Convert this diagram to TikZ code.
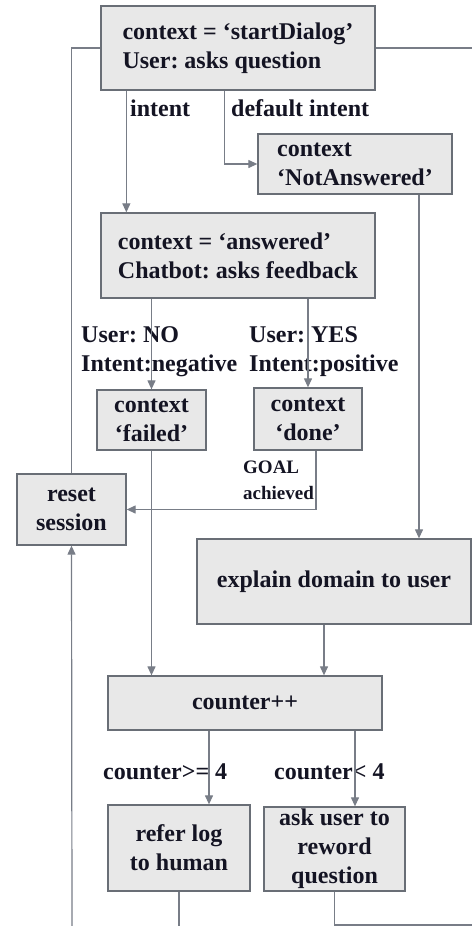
\documentclass[tikz,border=0pt]{standalone}
\usepackage{fontspec}
\setmainfont{Liberation Serif}
\usepackage{xcolor}
\usepackage{tikz}
\usetikzlibrary{arrows.meta}

\definecolor{boxgray}{RGB}{232,232,232}
\definecolor{edgegray}{RGB}{105,110,118}
\definecolor{linegray}{RGB}{120,125,135}
\definecolor{inkdark}{RGB}{20,20,35}

\newcommand{\boxfont}{\fontsize{24}{29}\selectfont\bfseries\frenchspacing}

\tikzset{
  box/.style={draw=edgegray, fill=boxgray, line width=1.3pt, inner sep=0pt,
    align=center, text=inkdark, font=\boxfont},
  lbl/.style={inner sep=0pt, anchor=west, align=left, text=inkdark, font=\boxfont},
  conn/.style={draw=linegray, line width=1.2pt},
  arr/.style={conn, -{Triangle[length=9pt,width=8pt]}}
}

\begin{document}
\begin{tikzpicture}[x=1pt, y=-1pt]

    % Marco
    \useasboundingbox (0,0) rectangle (472,926);

    % Cajas de arriba
    \node[box, minimum width=274pt, minimum height=84pt, align=left] (start) at (238,48)
      {context = ‘startDialog’\\User: asks question};
    \node[box, minimum width=194pt, minimum height=60pt, align=left] (notans) at (355,164)
      {context\\‘NotAnswered’};
    \node[box, minimum width=274pt, minimum height=85pt, align=left] (answered) at (238,255.5)
      {context = ‘answered’\\Chatbot: asks feedback};

    % Cajas del medio
    \node[box, minimum width=109pt, minimum height=60pt] (failed) at (151.5,420)
      {context\\‘failed’};
    \node[box, minimum width=108pt, minimum height=62pt] (done) at (308,419)
      {context\\‘done’};
    \node[box, minimum width=109pt, minimum height=71pt] (reset) at (71.5,509.5)
      {reset\\session};
    \node[box, minimum width=274pt, minimum height=85pt] (explain) at (334,581.5)
      {explain domain to user};

    % Cajas de abajo
    \node[box, minimum width=274pt, minimum height=54pt] (counter) at (245,703)
      {counter++};
    \node[box, minimum width=142pt, minimum height=86pt] (refer) at (179,848)
      {refer log\\to human};
    \node[box, minimum width=141pt, minimum height=84pt] (ask) at (334.5,849)
      {ask user to\\reword\\question};

    % Etiquetas
    \node[lbl] (lintent) at (130,108) {intent};
    \node[lbl] (ldefault) at (231,108) {default intent};
    \node[lbl] (lno) at (81,352) {User: NO\\Intent:negative};
    \node[lbl] (lyes) at (249,352) {User: YES\\Intent:positive};
    \node[lbl, font=\fontsize{19}{26}\selectfont\bfseries] (lgoal) at (243,480) {GOAL\\achieved};
    \node[lbl] (lge) at (103,772) {counter>= 4};
    \node[lbl] (llt) at (274,772) {counter< 4};

    % Puntos sueltos
    \coordinate (rightend) at (472,48);
    \coordinate (botleft) at (72,926);
    \coordinate (botmid) at (179,926);
    \coordinate (botright) at (472,925);
    \coordinate (na) at ([xshift=64pt]notans.south);
    \coordinate (dn) at ([xshift=8pt]done.south);
    \coordinate (ex) at ([xshift=-10pt]explain.south);
    \coordinate (cl) at ([xshift=-36pt]counter.south);
    \coordinate (cr) at ([xshift=110pt]counter.south);

    % Flechas de arriba
    \draw[conn] (start.west) -| (reset.north);
    \draw[conn] (start.east) -- (rightend);
    \draw[arr] ([xshift=26pt]start.south west) -- ([xshift=26pt]answered.north west);
    \draw[arr] ([xshift=124pt]start.south west) |- (notans.west);
    \draw[arr] (na) -- (na |- explain.north);

    % Flechas del medio
    \draw[arr] (failed.north |- answered.south) -- (failed.north);
    \draw[arr] (done.north |- answered.south) -- (done.north);
    \draw[arr] (dn) |- (reset.east);
    \draw[arr] (failed.south) -- (failed.south |- counter.north);
    \draw[arr] (ex) -- (ex |- counter.north);
    \draw[arr] (botleft) -- (reset.south);

    % Flechas de abajo
    \draw[arr] (cl) -- (cl |- refer.north);
    \draw[arr] (cr) -- (cr |- ask.north);
    \draw[conn] (refer.south) -- (botmid);
    \draw[conn] (ask.south) |- (botright);

\end{tikzpicture}
\end{document}
